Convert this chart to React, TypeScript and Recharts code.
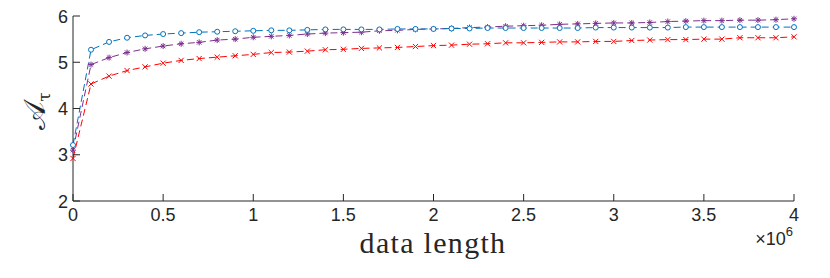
import { LineChart, Line, XAxis, YAxis } from 'recharts'

document.body.style.margin = '0'

const dataLength = [
  0, 1e5, 2e5, 3e5, 4e5, 5e5, 6e5, 7e5, 8e5, 9e5, 10e5,
  11e5, 12e5, 13e5, 14e5, 15e5, 16e5, 17e5, 18e5, 19e5, 20e5,
  21e5, 22e5, 23e5, 24e5, 25e5, 26e5, 27e5, 28e5, 29e5, 30e5,
  31e5, 32e5, 33e5, 34e5, 35e5, 36e5, 37e5, 38e5, 39e5, 40e5,
]

const blueSeries = [
  3.21, 5.27, 5.44, 5.53, 5.58, 5.61, 5.63, 5.65, 5.66, 5.67, 5.68,
  5.69, 5.69, 5.7, 5.71, 5.71, 5.71, 5.71, 5.72, 5.72, 5.72,
  5.73, 5.73, 5.74, 5.74, 5.74, 5.74, 5.74, 5.74, 5.75, 5.75,
  5.75, 5.75, 5.75, 5.76, 5.76, 5.76, 5.76, 5.76, 5.76, 5.76,
]

const purpleSeries = [
  3.1, 4.95, 5.1, 5.21, 5.29, 5.35, 5.4, 5.43, 5.48, 5.5, 5.54,
  5.56, 5.58, 5.61, 5.63, 5.64, 5.65, 5.68, 5.69, 5.71, 5.72,
  5.73, 5.75, 5.76, 5.78, 5.79, 5.8, 5.82, 5.83, 5.84, 5.85,
  5.85, 5.86, 5.88, 5.89, 5.9, 5.9, 5.91, 5.91, 5.92, 5.94,
]

const redSeries = [
  2.92, 4.53, 4.7, 4.82, 4.9, 4.98, 5.04, 5.08, 5.11, 5.14, 5.17,
  5.21, 5.22, 5.24, 5.27, 5.28, 5.3, 5.31, 5.32, 5.34, 5.36,
  5.37, 5.39, 5.4, 5.42, 5.42, 5.43, 5.44, 5.44, 5.45, 5.45,
  5.47, 5.48, 5.49, 5.49, 5.5, 5.5, 5.53, 5.53, 5.53, 5.55,
]

const xTicks = [0, 5e5, 1e6, 1.5e6, 2e6, 2.5e6, 3e6, 3.5e6, 4e6]
const yTicks = [2, 3, 4, 5, 6]

const data = dataLength.map((len, i) => ({
  len,
  blue: blueSeries[i],
  purple: purpleSeries[i],
  red: redSeries[i],
}))

const AXIS = '#262626'
const BLUE = '#0072BD'
const PURPLE = '#7E2F8E'
const RED = '#FF0000'
const tickFont = { fontFamily: '"Liberation Sans", Arial, sans-serif', fontSize: 18, fill: AXIS }

const XTick = ({ x, y, payload }: any) => (
  <g>
    <line x1={x} x2={x} y1={y} y2={y - 7} stroke={AXIS} strokeWidth={1} />
    <text x={x} y={y + 20} textAnchor="middle" {...tickFont}>
      {payload.value / 1e6}
    </text>
  </g>
)

const YTick = ({ x, y, payload }: any) => (
  <g>
    <line x1={x} x2={x + 7} y1={y} y2={y} stroke={AXIS} strokeWidth={1} />
    <text x={x - 5} y={y + 6.5} textAnchor="end" {...tickFont}>
      {payload.value}
    </text>
  </g>
)

const CircleDot = ({ cx, cy, index }: any) => (
  <circle key={`c${index}`} cx={cx} cy={cy} r={2.5} fill="#fff" stroke={BLUE} strokeWidth={1} />
)

const StarDot = ({ cx, cy, index }: any) => {
  const s = 3
  const d = 2.2
  return (
    <g key={`s${index}`} stroke={PURPLE} strokeWidth={1}>
      <line x1={cx - s} x2={cx + s} y1={cy} y2={cy} />
      <line x1={cx} x2={cx} y1={cy - s} y2={cy + s} />
      <line x1={cx - d} x2={cx + d} y1={cy - d} y2={cy + d} />
      <line x1={cx - d} x2={cx + d} y1={cy + d} y2={cy - d} />
    </g>
  )
}

const CrossDot = ({ cx, cy, index }: any) => {
  const d = 2.6
  return (
    <g key={`x${index}`} stroke={RED} strokeWidth={1}>
      <line x1={cx - d} x2={cx + d} y1={cy - d} y2={cy + d} />
      <line x1={cx - d} x2={cx + d} y1={cy + d} y2={cy - d} />
    </g>
  )
}

export default function App() {
  return (
    <div style={{ position: 'relative', width: 830, height: 278, background: '#fff' }}>
      <LineChart width={830} height={278} data={data} margin={{ top: 16, right: 36, bottom: 0, left: 0 }}>
        <XAxis
          dataKey="len"
          type="number"
          domain={[0, 4e6]}
          ticks={xTicks}
          interval={0}
          height={77}
          tickSize={0}
          tickMargin={0}
          tickLine={false}
          tick={<XTick />}
          axisLine={{ stroke: AXIS, strokeWidth: 1 }}
        />
        <YAxis
          type="number"
          domain={[2, 6]}
          ticks={yTicks}
          interval={0}
          width={73}
          tickSize={0}
          tickMargin={0}
          tickLine={false}
          tick={<YTick />}
          axisLine={{ stroke: AXIS, strokeWidth: 1 }}
        />
        <Line dataKey="red" stroke={RED} strokeWidth={1} strokeDasharray="7 4" dot={<CrossDot />} activeDot={false} isAnimationActive={false} />
        <Line dataKey="purple" stroke={PURPLE} strokeWidth={1} strokeDasharray="7 4" dot={<StarDot />} activeDot={false} isAnimationActive={false} />
        <Line dataKey="blue" stroke={BLUE} strokeWidth={1} strokeDasharray="7 4" dot={<CircleDot />} activeDot={false} isAnimationActive={false} />
      </LineChart>
      <svg width={830} height={278} style={{ position: 'absolute', left: 0, top: 0, pointerEvents: 'none' }}>
        <text x={433} y={253} textAnchor="middle" fill={AXIS} fontFamily='"Liberation Serif", "Times New Roman", serif' fontSize={30} letterSpacing={1.3}>
          data length
        </text>
        <text x={793} y={245} textAnchor="end" {...tickFont}>
          ×10<tspan fontSize={13} dy={-9}>6</tspan>
        </text>
        <text transform="translate(45 111) rotate(-90)" textAnchor="middle" fill={AXIS} fontFamily='"DejaVu Serif", "DejaVu Sans", serif'>
          <tspan fontSize={30}>𝒜</tspan>
          <tspan fontSize={17} dy={5}>τ</tspan>
        </text>
      </svg>
    </div>
  )
}
